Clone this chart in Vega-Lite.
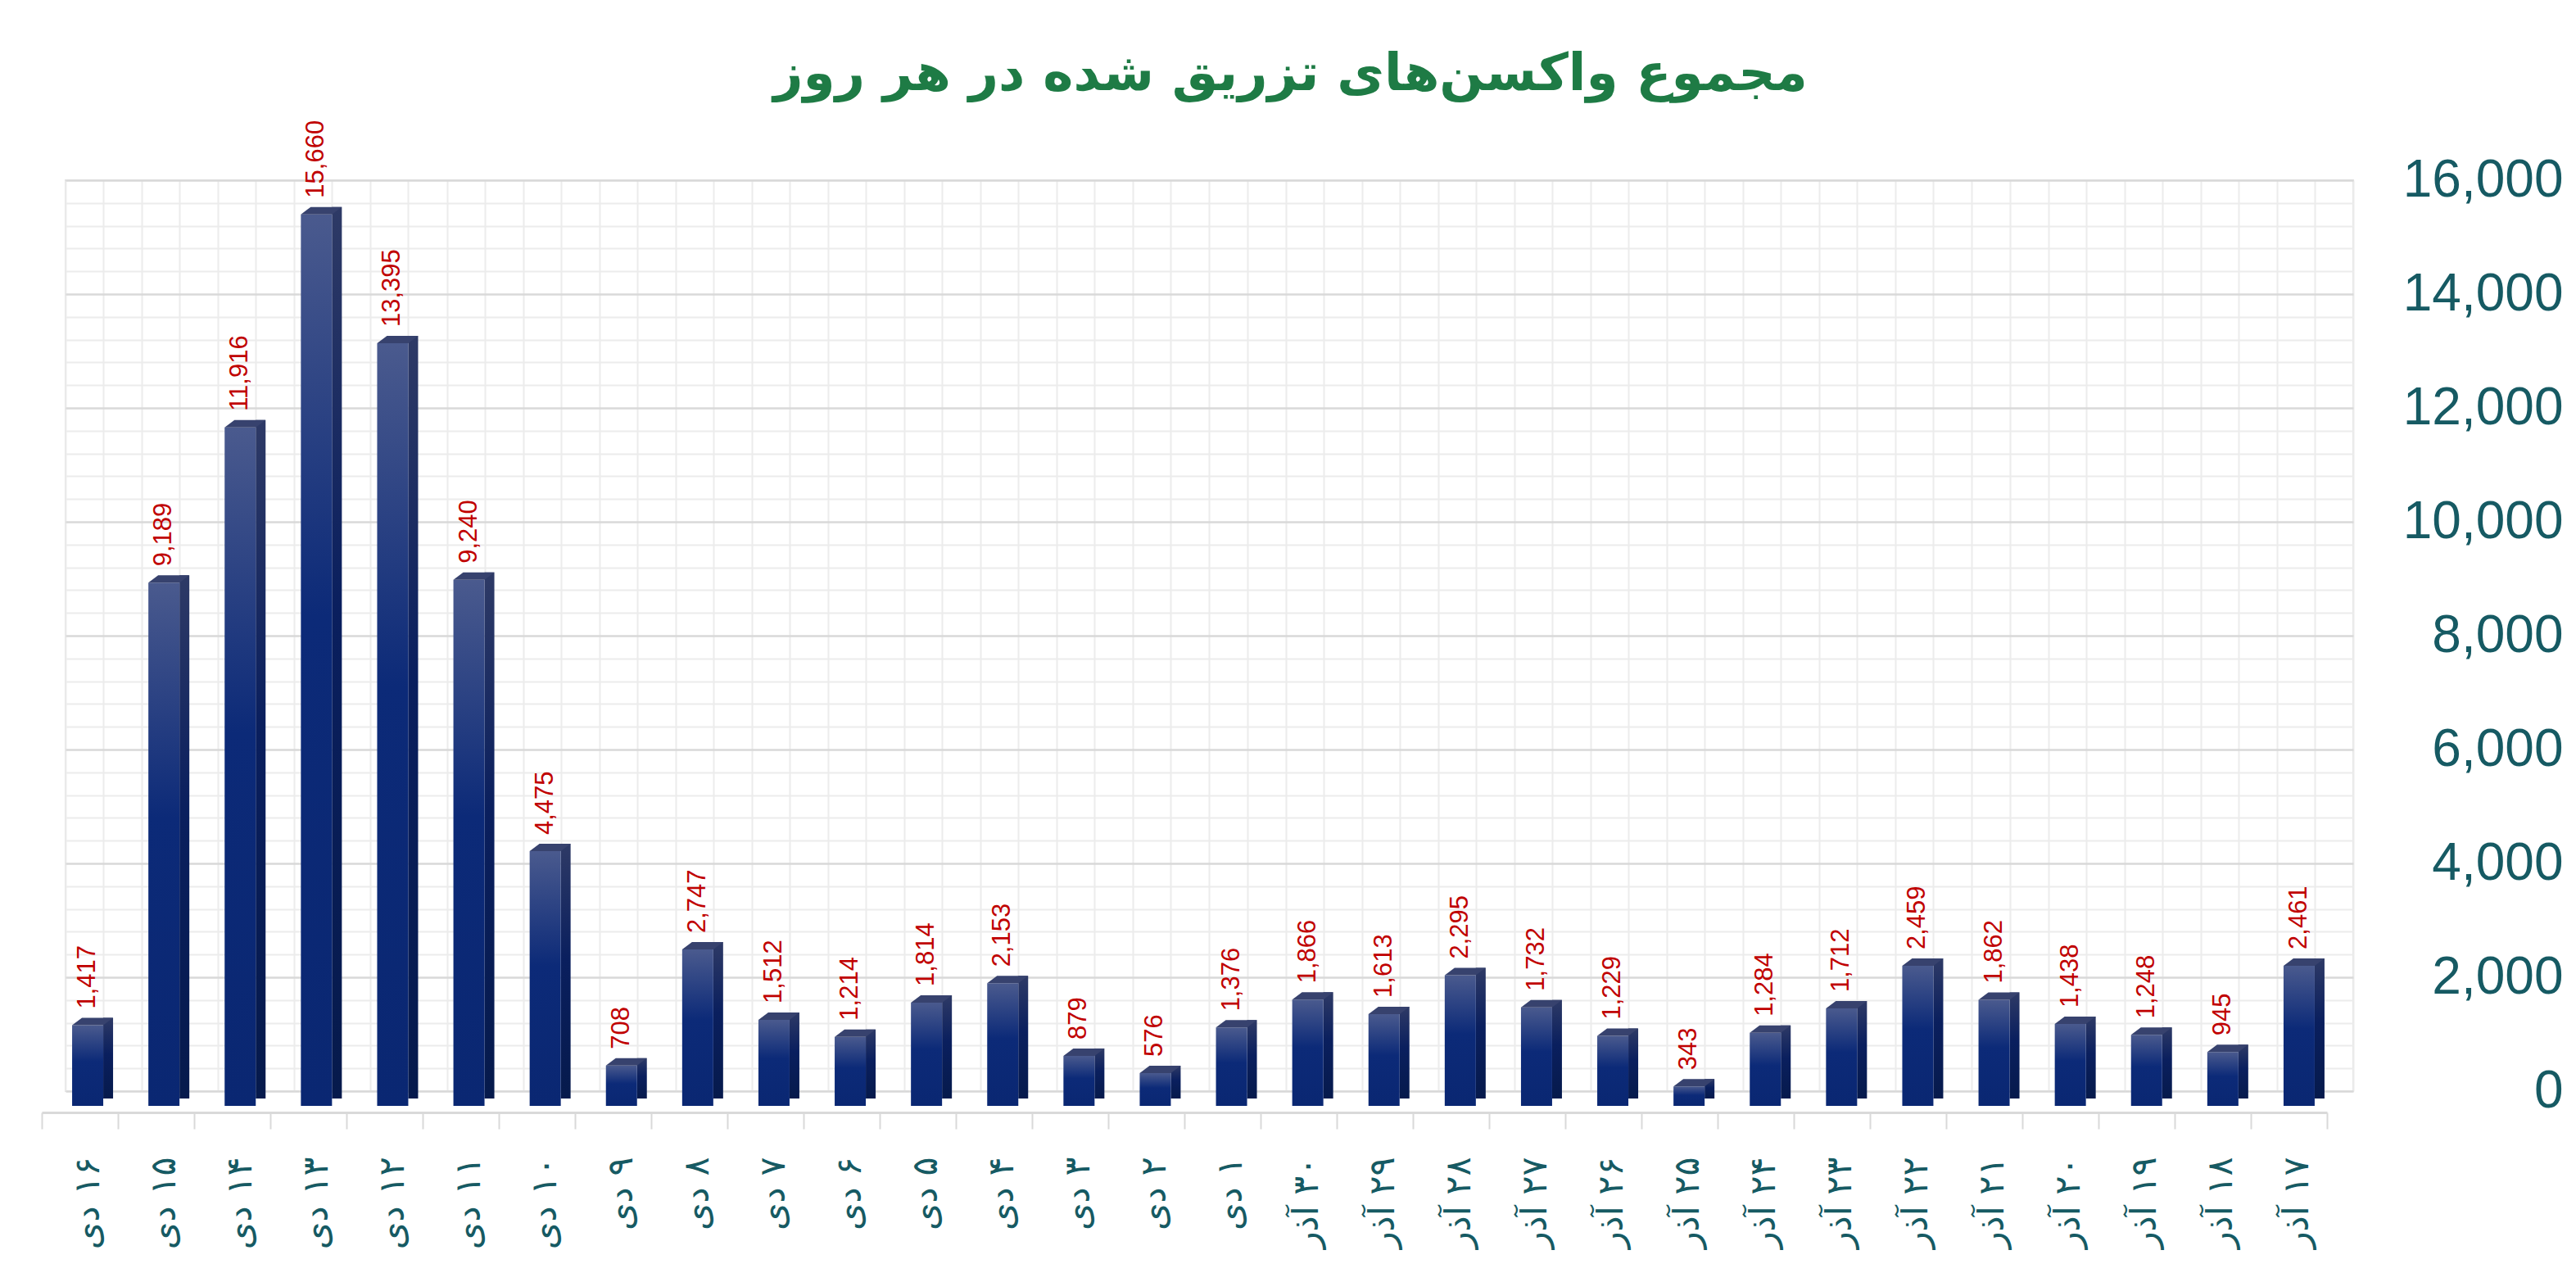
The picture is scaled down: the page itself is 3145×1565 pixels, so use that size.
{
  "$schema": "https://vega.github.io/schema/vega-lite/v6.json",
  "autosize": "none",
  "width": 2793,
  "height": 1112,
  "padding": {"left": 80, "top": 220, "right": 272, "bottom": 233},
  "background": "white",
  "title": {
    "text": "مجموع واکسن‌های تزریق شده در هر روز",
    "font": "DejaVu Sans",
    "fontSize": 63,
    "fontWeight": "bold",
    "color": "#1e7b45",
    "anchor": "middle",
    "dx": 99,
    "baseline": "alphabetic",
    "offset": -26
  },
  "data": {
    "values": [
      {"day": "۱۶ دی", "value": 1417},
      {"day": "۱۵ دی", "value": 9189},
      {"day": "۱۴ دی", "value": 11916},
      {"day": "۱۳ دی", "value": 15660},
      {"day": "۱۲ دی", "value": 13395},
      {"day": "۱۱ دی", "value": 9240},
      {"day": "۱۰ دی", "value": 4475},
      {"day": "۹ دی", "value": 708},
      {"day": "۸ دی", "value": 2747},
      {"day": "۷ دی", "value": 1512},
      {"day": "۶ دی", "value": 1214},
      {"day": "۵ دی", "value": 1814},
      {"day": "۴ دی", "value": 2153},
      {"day": "۳ دی", "value": 879},
      {"day": "۲ دی", "value": 576},
      {"day": "۱ دی", "value": 1376},
      {"day": "۳۰ آذر", "value": 1866},
      {"day": "۲۹ آذر", "value": 1613},
      {"day": "۲۸ آذر", "value": 2295},
      {"day": "۲۷ آذر", "value": 1732},
      {"day": "۲۶ آذر", "value": 1229},
      {"day": "۲۵ آذر", "value": 343},
      {"day": "۲۴ آذر", "value": 1284},
      {"day": "۲۳ آذر", "value": 1712},
      {"day": "۲۲ آذر", "value": 2459},
      {"day": "۲۱ آذر", "value": 1862},
      {"day": "۲۰ آذر", "value": 1438},
      {"day": "۱۹ آذر", "value": 1248},
      {"day": "۱۸ آذر", "value": 945},
      {"day": "۱۷ آذر", "value": 2461}
    ]
  },
  "layer": [
    {
      "mark": {"type": "point", "opacity": 0},
      "encoding": {
        "x": {
          "field": "day", "type": "nominal", "sort": null,
          "scale": {"paddingInner": 0, "paddingOuter": 0},
          "axis": {"orient": "bottom", "grid": true, "tickBand": "extent", "gridColor": "#ececec", "gridWidth": 2, "labels": false, "ticks": false, "domain": false, "title": null}
        },
        "y": {
          "field": "value", "type": "quantitative",
          "scale": {"domain": [0, 16000], "nice": false},
          "axis": {"orient": "right", "values": [400, 800, 1200, 1600, 2400, 2800, 3200, 3600, 4400, 4800, 5200, 5600, 6400, 6800, 7200, 7600, 8400, 8800, 9200, 9600, 10400, 10800, 11200, 11600, 12400, 12800, 13200, 13600, 14400, 14800, 15200, 15600], "grid": true, "gridColor": "#ececec", "gridWidth": 2, "labels": false, "ticks": false, "domain": false, "title": null}
        }
      }
    },
    {
      "mark": {"type": "point", "opacity": 0},
      "encoding": {
        "x": {
          "field": "day", "type": "nominal", "sort": null,
          "scale": {"paddingInner": 0, "paddingOuter": 0},
          "axis": {"orient": "bottom", "grid": true, "tickBand": "center", "gridColor": "#ececec", "gridWidth": 2, "labels": false, "ticks": false, "domain": false, "title": null}
        },
        "y": {
          "field": "value", "type": "quantitative",
          "scale": {"domain": [0, 16000], "nice": false},
          "axis": {
            "orient": "right", "values": [0, 2000, 4000, 6000, 8000, 10000, 12000, 14000, 16000],
            "grid": true, "gridColor": "#d9d9d9", "gridWidth": 2.5,
            "ticks": false, "tickSize": 0, "domain": false, "title": null,
            "labelExpr": "format(datum.value, ',')", "labelLimit": 400,
            "labelAlign": "right", "labelBaseline": "middle", "labelPadding": 256,
            "labelFont": "Liberation Sans", "labelFontSize": 64, "labelColor": "#165a63"
          }
        }
      }
    },
    {
      "mark": {
        "type": "bar", "width": 12, "xOffset": 5.5, "yOffset": 9, "y2Offset": 13,
        "color": {"gradient": "linear", "x1": 0, "y1": 0, "x2": 0, "y2": 1, "stops": [
          {"offset": 0, "color": "#2e3a66"},
          {"offset": 0.45, "color": "#0a1f5e"},
          {"offset": 1, "color": "#061a4c"}
        ]}
      },
      "encoding": {
        "x": {"field": "day", "type": "nominal", "sort": null, "scale": {"paddingInner": 0, "paddingOuter": 0}, "axis": null},
        "y": {"field": "value", "type": "quantitative", "scale": {"domain": [0, 16000], "nice": false}, "axis": null}
      }
    },
    {
      "mark": {
        "type": "bar", "width": 38, "xOffset": -19.5, "yOffset": 18, "y2Offset": 18,
        "color": {"gradient": "linear", "x1": 0, "y1": 0, "x2": 0, "y2": 1, "stops": [
          {"offset": 0, "color": "#4a5a8e"},
          {"offset": 0.45, "color": "#0c2a78"},
          {"offset": 1, "color": "#0a2772"}
        ]}
      },
      "encoding": {
        "x": {"field": "day", "type": "nominal", "sort": null, "scale": {"paddingInner": 0, "paddingOuter": 0}, "axis": null},
        "y": {"field": "value", "type": "quantitative", "scale": {"domain": [0, 16000], "nice": false}, "axis": null}
      }
    },
    {
      "mark": {
        "type": "point", "filled": true, "opacity": 1, "size": 2500, "strokeWidth": 0,
        "shape": "M -1 0.18 L -0.52 -0.18 L 1 -0.18 L 0.52 0.18 Z",
        "color": "#37426e", "xOffset": -13.5, "yOffset": 13.5
      },
      "encoding": {
        "x": {"field": "day", "type": "nominal", "sort": null, "scale": {"paddingInner": 0, "paddingOuter": 0}, "axis": null},
        "y": {"field": "value", "type": "quantitative", "scale": {"domain": [0, 16000], "nice": false}, "axis": null}
      }
    },
    {
      "mark": {
        "type": "text", "angle": -90, "align": "left", "baseline": "middle",
        "xOffset": -19.5, "yOffset": -2,
        "font": "Liberation Sans", "fontSize": 31, "color": "#c00000"
      },
      "encoding": {
        "x": {"field": "day", "type": "nominal", "sort": null, "scale": {"paddingInner": 0, "paddingOuter": 0}, "axis": null},
        "y": {"field": "value", "type": "quantitative", "scale": {"domain": [0, 16000], "nice": false}, "axis": null},
        "text": {"field": "value", "type": "quantitative", "format": ","}
      }
    },
    {
      "mark": {"type": "point", "opacity": 0},
      "encoding": {
        "x": {
          "field": "day", "type": "nominal", "sort": null,
          "scale": {"range": [-29, 2761], "paddingInner": 0, "paddingOuter": 0},
          "axis": {
            "orient": "bottom", "offset": 26, "grid": false, "title": null,
            "tickBand": "extent", "ticks": true, "tickColor": "#d9d9d9", "tickWidth": 2, "tickSize": 20,
            "domain": true, "domainColor": "#d9d9d9", "domainWidth": 3,
            "labelAngle": -90, "labelAlign": "right", "labelBaseline": "middle",
            "labelPadding": 34, "labelOffset": 10,
            "labelFont": "DejaVu Sans", "labelFontSize": 43, "labelColor": "#165a63",
            "labelExpr": "'\u200f' + datum.label"
          }
        },
        "y": {"field": "value", "type": "quantitative", "scale": {"domain": [0, 16000], "nice": false}, "axis": null}
      }
    }
  ],
  "resolve": {"scale": {"x": "independent"}, "axis": {"x": "independent", "y": "independent"}},
  "config": {
    "view": {"stroke": "#e2e2e2", "strokeWidth": 2}
  }
}
